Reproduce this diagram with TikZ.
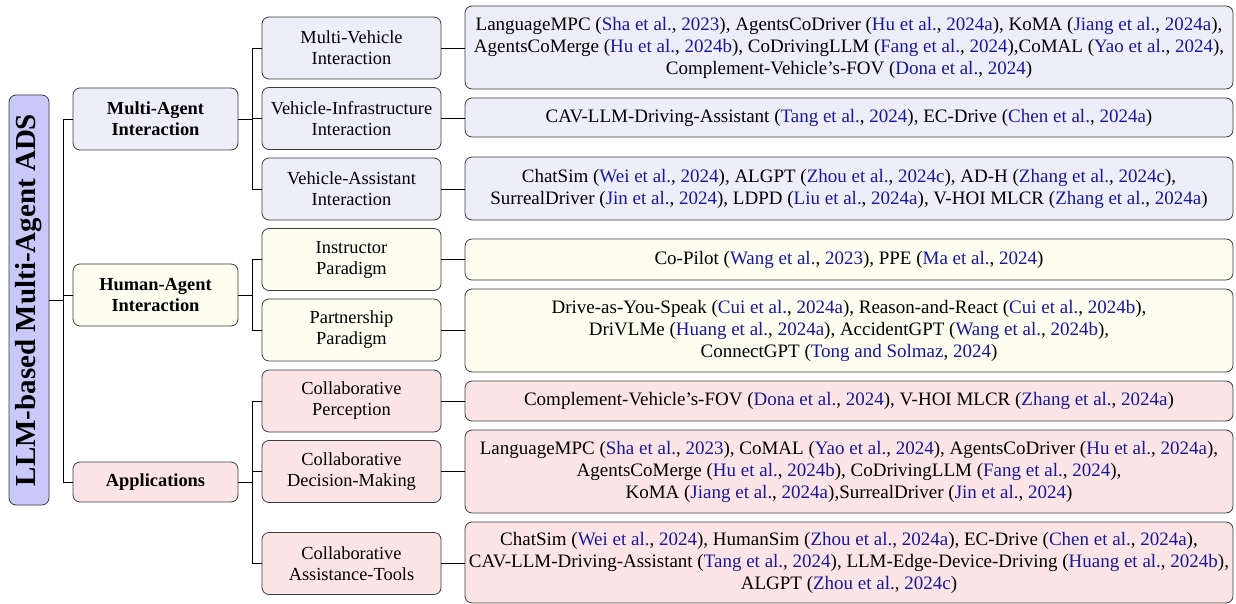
\documentclass[tikz,border=0pt]{standalone}
\usepackage{fontspec}
\setmainfont{Liberation Serif}
\definecolor{boxline}{RGB}{60,60,60}
\definecolor{rootfill}{RGB}{200,200,250}
\definecolor{mafill}{RGB}{238,238,250}
\definecolor{hafill}{RGB}{253,253,240}
\definecolor{apfill}{RGB}{253,229,231}
\definecolor{citeblue}{RGB}{25,25,150}
\newcommand{\cit}[2]{(\textcolor{citeblue}{#1}, \textcolor{citeblue}{#2})}

\begin{document}
\begin{tikzpicture}[x=1pt,y=-1pt,
   every node/.style={draw=boxline,line width=0.8pt,rounded corners=7pt,
      align=center,inner sep=0pt},
   rootbox/.style={fill=rootfill,rotate=90,minimum width=410pt,minimum height=40pt,
      font=\fontsize{29}{32}\selectfont\bfseries},
   catbox/.style={minimum height=62pt,minimum width=165pt,
      font=\fontsize{18.4}{21}\selectfont\bfseries},
   subbox/.style={minimum height=62pt,minimum width=179pt,
      font=\fontsize{18.4}{21}\selectfont},
   leafbox/.style={minimum width=768pt,font=\fontsize{19}{22}\selectfont},
   link/.style={draw=black,line width=0.8pt}]

\useasboundingbox (0,0) rectangle (1236,604);

% root and first level
\node[rootbox] (root) at (29,300) {LLM-based Multi-Agent ADS};
\node[catbox,fill=mafill] (mai) at (155.5,119) {Multi-Agent\\Interaction};
\node[catbox,fill=hafill] (hai) at (155.5,295) {Human-Agent\\Interaction};
\node[catbox,fill=apfill,minimum height=40pt] (app) at (155.5,482) {Applications};

% second level
\node[subbox,fill=mafill] (mv) at (351.5,48) {Multi-Vehicle\\Interaction};
\node[subbox,fill=mafill] (vi) at (351.5,118.5) {Vehicle-Infrastructure\\Interaction};
\node[subbox,fill=mafill] (va) at (351.5,189) {Vehicle-Assistant\\Interaction};
\node[subbox,fill=hafill] (ip) at (351.5,259.5) {Instructor\\Paradigm};
\node[subbox,fill=hafill] (pp) at (351.5,330) {Partnership\\Paradigm};
\node[subbox,fill=apfill] (cp) at (351.5,401) {Collaborative\\Perception};
\node[subbox,fill=apfill] (cd) at (351.5,471.5) {Collaborative\\Decision-Making};
\node[subbox,fill=apfill] (ca) at (351.5,563.5) {Collaborative\\Assistance-Tools};

% leaves
\node[leafbox,fill=mafill,minimum height=83pt] (mvl) at (849,47.5)
   {LanguageMPC \cit{Sha et al.}{2023}, AgentsCoDriver \cit{Hu et al.}{2024a}, KoMA \cit{Jiang et al.}{2024a},\\
    AgentsCoMerge \cit{Hu et al.}{2024b}, CoDrivingLLM \cit{Fang et al.}{2024},CoMAL \cit{Yao et al.}{2024},\\
    Complement-Vehicle's-FOV \cit{Dona et al.}{2024}};
\node[leafbox,fill=mafill,minimum height=39pt] (vil) at (849,117.5)
   {CAV-LLM-Driving-Assistant \cit{Tang et al.}{2024}, EC-Drive \cit{Chen et al.}{2024a}};
\node[leafbox,fill=mafill,minimum height=63pt] (val) at (849,188.5)
   {ChatSim \cit{Wei et al.}{2024}, ALGPT \cit{Zhou et al.}{2024c}, AD-H \cit{Zhang et al.}{2024c},\\
    SurrealDriver \cit{Jin et al.}{2024}, LDPD \cit{Liu et al.}{2024a}, V-HOI MLCR \cit{Zhang et al.}{2024a}};
\node[leafbox,fill=hafill,minimum height=41pt] (ipl) at (849,259.5)
   {Co-Pilot \cit{Wang et al.}{2023}, PPE \cit{Ma et al.}{2024}};
\node[leafbox,fill=hafill,minimum height=83pt] (ppl) at (849,330.5)
   {Drive-as-You-Speak \cit{Cui et al.}{2024a}, Reason-and-React \cit{Cui et al.}{2024b},\\
    DriVLMe \cit{Huang et al.}{2024a}, AccidentGPT \cit{Wang et al.}{2024b},\\
    ConnectGPT \cit{Tong and Solmaz}{2024}};
\node[leafbox,fill=apfill,minimum height=40pt] (cpl) at (849,401)
   {Complement-Vehicle's-FOV \cit{Dona et al.}{2024}, V-HOI MLCR \cit{Zhang et al.}{2024a}};
\node[leafbox,fill=apfill,minimum height=83pt] (cdl) at (849,471.5)
   {LanguageMPC \cit{Sha et al.}{2023}, CoMAL \cit{Yao et al.}{2024}, AgentsCoDriver \cit{Hu et al.}{2024a},\\
    AgentsCoMerge \cit{Hu et al.}{2024b}, CoDrivingLLM \cit{Fang et al.}{2024},\\
    KoMA \cit{Jiang et al.}{2024a},SurrealDriver \cit{Jin et al.}{2024}};
\node[leafbox,fill=apfill,minimum height=81pt] (cal) at (849,562.5)
   {ChatSim \cit{Wei et al.}{2024}, HumanSim \cit{Zhou et al.}{2024a}, EC-Drive \cit{Chen et al.}{2024a},\\
    CAV-LLM-Driving-Assistant \cit{Tang et al.}{2024}, LLM-Edge-Device-Driving \cit{Huang et al.}{2024b},\\
    ALGPT \cit{Zhou et al.}{2024c}};

% forks (the root is turned, so its right side is .south)
\foreach \c in {mai,hai,app}
   \draw[link] (root.south) -- +(14,0) |- (\c.west);
\foreach \p/\c in {mai/mv,mai/vi,mai/va,hai/ip,hai/pp,app/cp,app/cd,app/ca}
   \draw[link] (\p.east) -- +(14,0) |- (\c.west);
\foreach \p/\c in {mv/mvl,vi/vil,va/val,ip/ipl,pp/ppl,cp/cpl,cd/cdl,ca/cal}
   \draw[link] (\p.east) -- (\p.east -| \c.west);

\end{tikzpicture}
\end{document}
